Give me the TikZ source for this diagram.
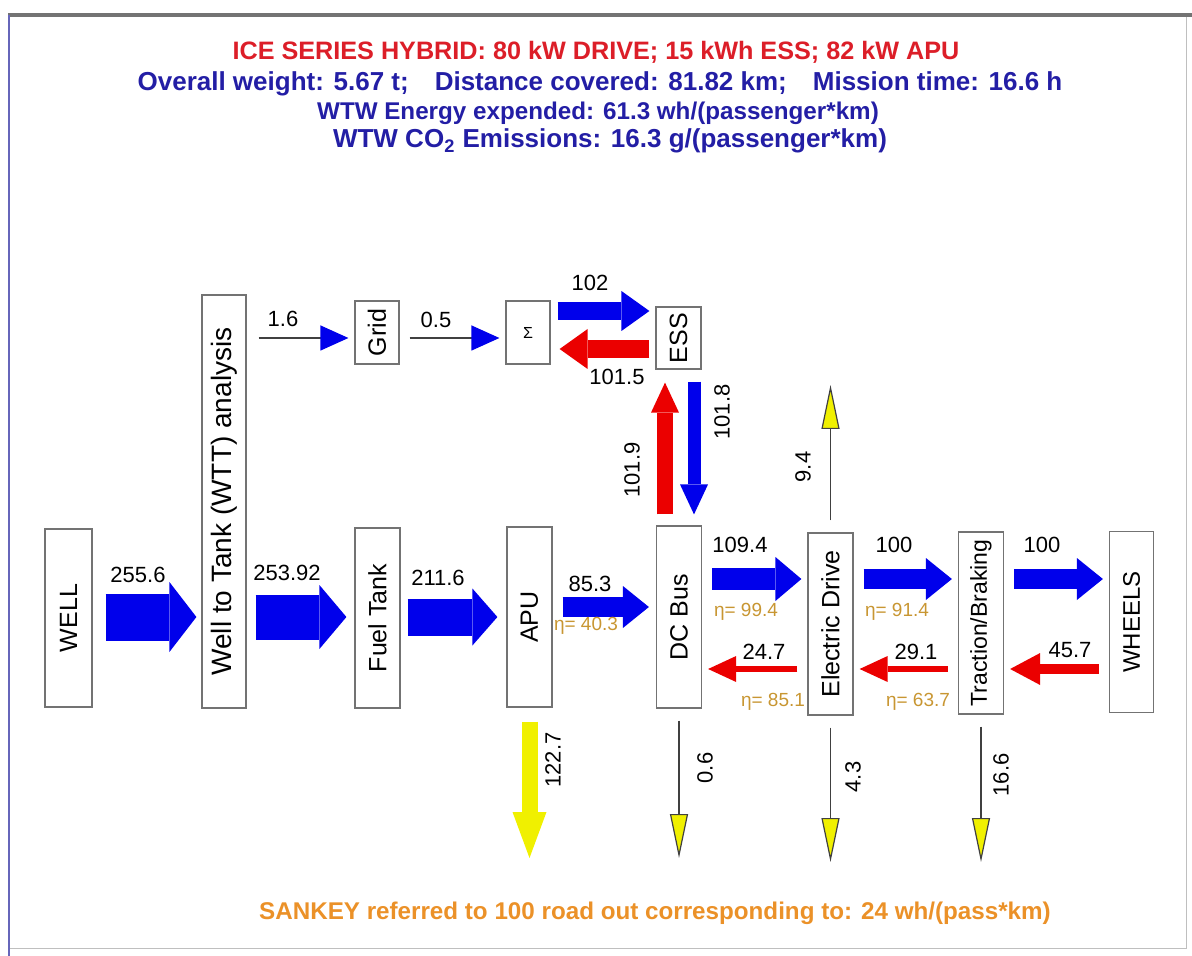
\documentclass[tikz,border=0pt]{standalone}
\usepackage{fontspec}
\setmainfont{Liberation Sans}
\usepackage{tikz}
\usetikzlibrary{arrows.meta,positioning}

\definecolor{flowblue}{RGB}{0,0,235}
\definecolor{flowred}{RGB}{235,0,0}
\definecolor{flowyellow}{RGB}{240,240,0}
\definecolor{titlered}{RGB}{220,30,40}
\definecolor{titleblue}{RGB}{35,30,165}
\definecolor{etacol}{RGB}{200,150,50}
\definecolor{sankeyorange}{RGB}{235,145,40}
\definecolor{boxgray}{RGB}{115,115,115}

\newcommand{\vlabel}[1]{\rotatebox{90}{#1}}

\begin{document}
\begin{tikzpicture}[
  x=0.5pt, y=-0.5pt,
  box/.style={draw=boxgray, line width=0.6pt, fill=white, inner sep=0pt, minimum width=22.5pt, minimum height=90pt, font=\fontsize{12.5}{14}\selectfont},
  num/.style={font=\fontsize{11}{13}\selectfont, inner sep=0pt},
  eta/.style={font=\fontsize{9.5}{11}\selectfont, text=etacol, inner sep=0pt},
  headline/.style={font=\bfseries\fontsize{12.6}{15}\selectfont, inner sep=0pt},
  flow/.style n args={4}{draw=#4, line width=#1, -{Triangle[length=#2, width=#3, line width=0pt]}, shorten <=5pt, shorten >=3pt},
  feed/.style={draw=black!75, line width=0.6pt, -{Triangle[length=14pt, width=12.5pt, color=flowblue]}, shorten <=5pt, shorten >=3pt},
  loss/.style={draw=black!75, line width=0.6pt, -{Triangle[length=22pt, width=9pt, fill=flowyellow]}}
]
  \useasboundingbox (0,0) rectangle (1192,956);

  % frame
  \draw[black!25, line width=0.5pt] (1186,15) -- (1186,948) -- (9,948);
  \draw[black!55, line width=1.6pt] (8,15) -- (1192,15);
  \draw[black!45!blue!60, line width=1.2pt] (9,15) -- (9,956);

  % headings
  \node[headline, text=titlered] (title) at (596,52) {ICE SERIES HYBRID: 80 kW DRIVE; 15 kWh ESS; 82 kW APU};
  \node[headline, text=titleblue, font=\bfseries\fontsize{13}{15}\selectfont] (info) at (600,84) {Overall weight: 5.67 t;\quad Distance covered: 81.82 km;\quad Mission time: 16.6 h};
  \node[headline, text=titleblue, font=\bfseries\fontsize{12.1}{15}\selectfont] (energy) at (598,113) {WTW Energy expended: 61.3 wh/(passenger*km)};
  \node[headline, text=titleblue, font=\bfseries\fontsize{13}{15}\selectfont] (co2) at (610,141) {WTW CO\textsubscript{2} Emissions: 16.3 g/(passenger*km)};
  \node[headline, text=sankeyorange, font=\bfseries\fontsize{12.1}{15}\selectfont] (sankey) at (655,913) {SANKEY referred to 100 road out corresponding to: 24 wh/(pass*km)};

  % blocks
  \node[box, minimum width=23.5pt, minimum height=89pt] (well) at (68.5,618) {\vlabel{WELL}};
  \node[box, minimum width=22pt, minimum height=206.5pt, font=\fontsize{14}{16}\selectfont] (wtt) at (224,501.5) {\vlabel{Well to Tank (WTT) analysis}};
  \node[box] (fuel) at (377.5,618) {\vlabel{Fuel Tank}};
  \node[box] (apu) at (529.5,617) {\vlabel{APU}};
  \node[box, minimum height=91pt] (dcbus) at (679,617) {\vlabel{DC Bus}};
  \node[box, minimum height=91pt] (edrive) at (830.5,624) {\vlabel{Electric Drive}};
  \node[box, minimum height=91pt, font=\fontsize{11.5}{13}\selectfont] (traction) at (981,623) {\vlabel{Traction/Braking}};
  \node[box, minimum width=22pt, minimum height=90.5pt, font=\fontsize{12}{14}\selectfont] (wheels) at (1131.5,622) {\vlabel{WHEELS}};
  \node[box, minimum width=22pt, minimum height=31.5pt] (grid) at (377,332.5) {\vlabel{Grid}};
  \node[box, minimum width=22pt, minimum height=31.5pt, font=\fontsize{8}{9}\selectfont] (sigma) at (528,332.5) {Σ};
  \node[box, minimum height=31pt] (ess) at (678.5,338) {\vlabel{ESS}};

  % rows and columns for the flows
  \coordinate (fwd) at (0,617);
  \coordinate (apurow) at (0,607);
  \coordinate (drv) at (0,579);
  \coordinate (ret) at (0,669);
  \coordinate (feedrow) at (0,338);
  \coordinate (charge) at (0,311);
  \coordinate (discharge) at (0,349);
  \coordinate (upcol) at (665,0);
  \coordinate (downcol) at (694,0);

  % free ends of the losses
  \coordinate (apuout) at (529.5,858);
  \coordinate (dcout) at (679,858);
  \coordinate (edout) at (830.5,862);
  \coordinate (tbout) at (981,862);
  \coordinate (edup) at (830.5,385);

  % forward flows
  \draw[flow={23.5pt}{13.5pt}{35pt}{flowblue}, shorten <=6.5pt, shorten >=2.5pt] (well.east |- fwd) -- (wtt.west |- fwd);
  \draw[flow={22.5pt}{13.5pt}{32pt}{flowblue}, shorten <=4.5pt, shorten >=4pt] (wtt.east |- fwd) -- (fuel.west |- fwd);
  \draw[flow={18.5pt}{12.5pt}{28.5pt}{flowblue}, shorten <=3.5pt, shorten >=4.5pt] (fuel.east |- fwd) -- (apu.west |- fwd);
  \draw[flow={10pt}{13pt}{21pt}{flowblue}, shorten >=3.5pt] (apu.east |- apurow) -- (dcbus.west |- apurow);
  \draw[flow={11pt}{13pt}{22pt}{flowblue}] (dcbus.east |- drv) -- (edrive.west |- drv);
  \draw[flow={10pt}{13pt}{21pt}{flowblue}] (edrive.east |- drv) -- (traction.west |- drv);
  \draw[flow={10pt}{13pt}{21pt}{flowblue}] (traction.east |- drv) -- (wheels.west |- drv);

  % recovered flows
  \draw[flow={5pt}{15pt}{16pt}{flowred}] (wheels.west |- ret) -- (traction.east |- ret);
  \draw[flow={3pt}{14pt}{13pt}{flowred}] (traction.west |- ret) -- (edrive.east |- ret);
  \draw[flow={3pt}{14pt}{13pt}{flowred}] (edrive.west |- ret) -- (dcbus.east |- ret);

  % storage loop
  \draw[feed, shorten <=6pt] (wtt.east |- feedrow) -- (grid.west |- feedrow);
  \draw[feed] (grid.east |- feedrow) -- (sigma.west |- feedrow);
  \draw[flow={9pt}{14pt}{20pt}{flowblue}, shorten <=3.5pt] (sigma.east |- charge) -- (ess.west |- charge);
  \draw[flow={9pt}{14pt}{20pt}{flowred}, shorten <=3pt, shorten >=4.5pt] (ess.west |- discharge) -- (sigma.east |- discharge);
  \draw[flow={8pt}{15pt}{14pt}{flowred}, shorten <=5.5pt, shorten >=6.5pt] (dcbus.north -| upcol) -- (ess.south -| upcol);
  \draw[flow={6.5pt}{15pt}{14pt}{flowblue}, shorten <=6pt, shorten >=5.5pt] (ess.south -| downcol) -- (dcbus.north -| downcol);

  % losses
  \draw[flow={8pt}{23pt}{17pt}{flowyellow}, shorten >=0pt, shorten <=7pt] (apu.south) -- (apuout);
  \draw[loss, shorten <=6pt] (dcbus.south) -- (dcout);
  \draw[loss, shorten <=6pt] (edrive.south) -- (edout);
  \draw[loss, shorten <=6pt] (traction.south) -- (tbout);
  \draw[loss, shorten <=6pt] (edrive.north) -- (edup);

  % values
  \node[num] (vwell) at (138,575) {255.6};
  \node[num] (vwtt) at (287,573) {253.92};
  \node[num] (vfuel) at (438,578) {211.6};
  \node[num] (vapu) at (590,584) {85.3};
  \node[num] (vdc) at (740,545) {109.4};
  \node[num] (ved) at (894,545) {100};
  \node[num] (vtb) at (1042,545) {100};
  \node[num] (rwh) at (1070,650) {45.7};
  \node[num] (rtb) at (916,652) {29.1};
  \node[num] (red) at (764,652) {24.7};
  \node[num] (vgrid) at (283,319) {1.6};
  \node[num] (vsigma) at (436,320) {0.5};
  \node[num] (vcharge) at (590,283) {102};
  \node[num] (vdischarge) at (617,377) {101.5};
  \node[num, rotate=90] (vup) at (632,470) {101.9};
  \node[num, rotate=90] (vdown) at (722,412) {101.8};
  \node[num, rotate=90] (vedup) at (803,467) {9.4};
  \node[num, rotate=90] (lapu) at (553,760) {122.7};
  \node[num, rotate=90] (ldc) at (705,768) {0.6};
  \node[num, rotate=90] (led) at (853,777) {4.3};
  \node[num, rotate=90] (ltb) at (1001,775) {16.6};

  % efficiencies
  \node[eta] (eapu) at (586,626) {η= 40.3};
  \node[eta] (edc) at (746,612) {η= 99.4};
  \node[eta] (eed) at (897,612) {η= 91.4};
  \node[eta] (edcr) at (773,702) {η= 85.1};
  \node[eta] (eedr) at (918,702) {η= 63.7};
\end{tikzpicture}
\end{document}
